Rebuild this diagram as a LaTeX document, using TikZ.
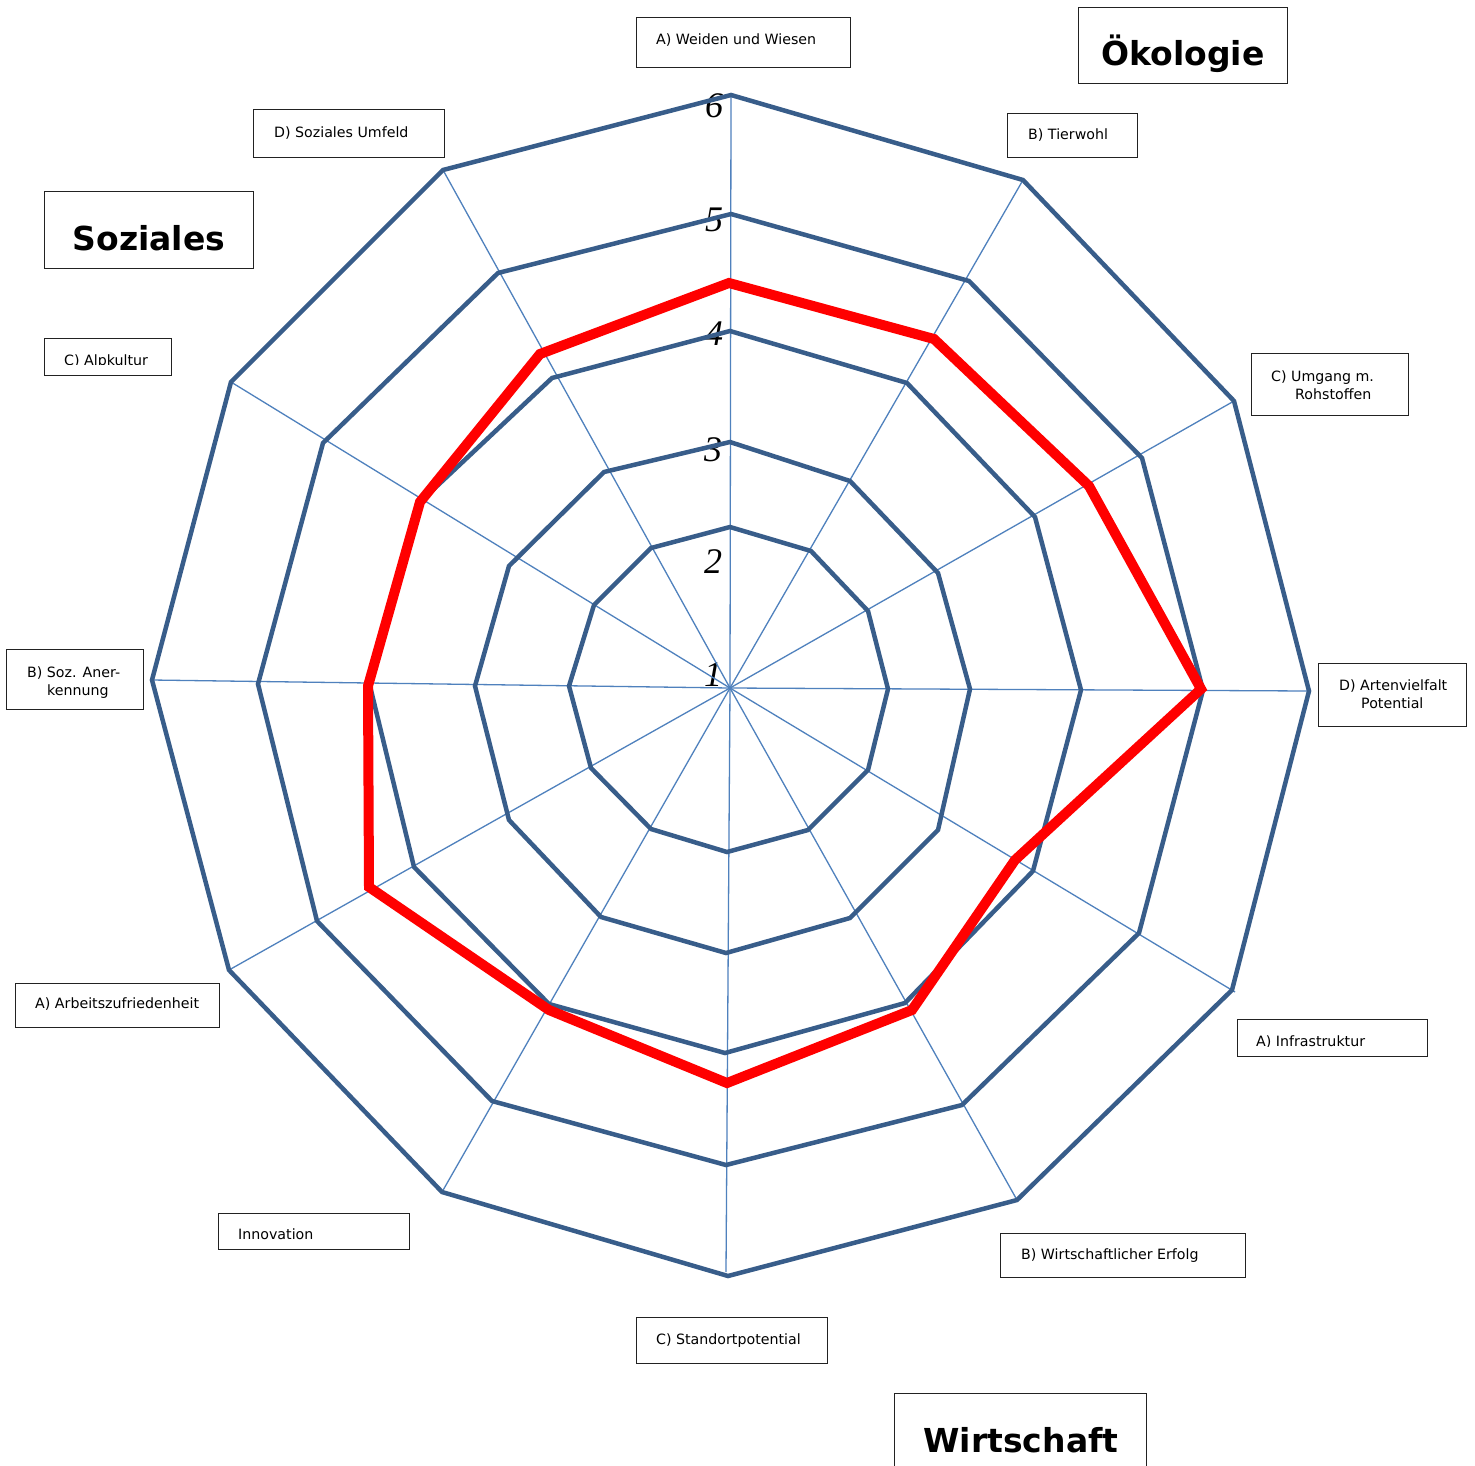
\documentclass[tikz,border=0pt]{standalone}
\usepackage{fontspec}
\newfontfamily\labfont{DejaVu Sans}
\newfontfamily\numfont{Liberation Serif}
\definecolor{ringc}{HTML}{385D8A}
\definecolor{axisc}{HTML}{4F81BD}
\definecolor{boxc}{HTML}{222222}
\tikzset{
  ring/.style={draw=ringc, line width=4.5pt, line join=miter},
  axisline/.style={draw=axisc, line width=1.3pt},
  redline/.style={draw=red, line width=10pt, line join=miter},
  lbox/.style={draw=boxc, line width=1.3pt, anchor=north west, inner sep=0pt},
  lab/.style={font=\labfont\fontsize{14.2}{17}\selectfont, anchor=base west, inner sep=0pt},
  ttl/.style={font=\labfont\bfseries\fontsize{33}{38}\selectfont, anchor=base, inner sep=0pt},
  num/.style={font=\numfont\itshape\fontsize{36}{40}\selectfont, inner sep=0pt},
}
\begin{document}
\begin{tikzpicture}[x=1pt,y=-1pt]
\clip (0,0) rectangle (1475,1465);
\fill[white] (0,0) rectangle (1475,1465);

% scale numbers
\node[num] (n6) at (714,106) {6};
\node[num] (n5) at (714,220) {5};
\node[num] (n4) at (714,334) {4};
\node[num] (n3) at (713,450) {3};
\node[num] (n2) at (713,562) {2};
\node[num] (n1) at (713,675) {1};

% centre and outer vertices
\coordinate (c) at (730,688);
\coordinate (o1) at (731,95);
\coordinate (o2) at (1023,180);
\coordinate (o3) at (1234,401);
\coordinate (o4) at (1309,691);
\coordinate (o5) at (1235,992);
\coordinate (o6) at (1017,1200);
\coordinate (o7) at (726,1272);
\coordinate (o8) at (442,1192);
\coordinate (o9) at (229,970);
\coordinate (o10) at (152,680);
\coordinate (o11) at (231,382);
\coordinate (o12) at (443,170);

% axes
\foreach \i in {1,...,12} \draw[axisline] (c) -- (o\i);

% rings
\draw[ring] (727,852) -- (651,829) -- (591,768) -- (569,686) -- (594,605) -- (651,548) -- (730,527) -- (811,551) -- (868,611) -- (888,689) -- (868,770) -- (808,830) -- cycle;
\draw[ring] (726,953) -- (601,917) -- (509,820) -- (475,686) -- (509,566) -- (604,472) -- (730,442) -- (850,481) -- (938,573) -- (970,689) -- (938,830) -- (850,918) -- cycle;
\draw[ring] (725,1053) -- (549,1004) -- (414,867) -- (370,686) -- (420,502) -- (552,378) -- (730,331) -- (907,383) -- (1035,517) -- (1081,690) -- (1033,871) -- (905,1003) -- cycle;
\draw[ring] (726,1165) -- (492,1101) -- (317,921) -- (258,684) -- (323,443) -- (498,273) -- (731,214) -- (969,281) -- (1142,458) -- (1203,690) -- (1139,933) -- (962,1105) -- cycle;
\draw[ring] (728,1276) -- (442,1192) -- (229,970) -- (152,680) -- (231,382) -- (443,170) -- (731,95) -- (1023,180) -- (1234,401) -- (1309,691) -- (1232,990) -- (1017,1200) -- cycle;

% data polygon
\draw[redline] (727,1083) -- (549,1010) -- (369,887) -- (368,686) -- (420,502) -- (540,354) -- (729,283) -- (934,339) -- (1089,486) -- (1201,689) -- (1015,860) -- (912,1010) -- cycle;

% label boxes
\node[lbox, minimum width=214pt, minimum height=50pt] (bWeiden) at (636,17) {};
\node[lab] (tWeiden) at (656,44) {A) Weiden und Wiesen};

\node[lbox, minimum width=209pt, minimum height=76pt] (bOek) at (1078,7) {};
\node[ttl] (tOek) at (1183,65) {Ökologie};

\node[lbox, minimum width=130pt, minimum height=44pt] (bTier) at (1007,113) {};
\node[lab] (tTier) at (1028,139) {B) Tierwohl};

\node[lbox, minimum width=191pt, minimum height=48pt] (bUmf) at (253,109) {};
\node[lab] (tUmf) at (274,137) {D) Soziales Umfeld};

\node[lbox, minimum width=209pt, minimum height=77pt] (bSoz) at (44,191) {};
\node[ttl] (tSoz) at (149,250) {Soziales};

\node[lbox, minimum width=127pt, minimum height=37pt] (bAlp) at (44,338) {};
\begin{scope}
  \clip (44,340) rectangle (171,364.5);
  \node[lab] (tAlp) at (64,365) {C) Alpkultur};
\end{scope}

\node[lbox, minimum width=157pt, minimum height=62pt] (bRoh) at (1251,353) {};
\node[lab] (tRoh1) at (1271,381) {C) Umgang m.};
\node[lab] (tRoh2) at (1295,399) {Rohstoffen};

\node[lbox, minimum width=137pt, minimum height=60pt] (bAner) at (6,649) {};
\node[lab] (tAner1) at (27,677) {B) Soz. Aner-};
\node[lab] (tAner2) at (47,695) {kennung};

\node[lbox, minimum width=148pt, minimum height=63pt] (bArt) at (1318,663) {};
\node[lab] (tArt1) at (1339,690) {D) Artenvielfalt};
\node[lab] (tArt2) at (1361,708) {Potential};

\node[lbox, minimum width=204pt, minimum height=44pt] (bArb) at (15,983) {};
\node[lab] (tArb) at (35,1008) {A) Arbeitszufriedenheit};

\node[lbox, minimum width=190pt, minimum height=37pt] (bInf) at (1237,1019) {};
\begin{scope}
  \clip (1237,1021) rectangle (1427,1046);
  \node[lab] (tInf) at (1256,1046) {A) Infrastruktur};
\end{scope}

\node[lbox, minimum width=191pt, minimum height=36pt] (bInn) at (218,1213) {};
\node[lab] (tInn) at (238,1239) {Innovation};

\node[lbox, minimum width=245pt, minimum height=44pt] (bErf) at (1000,1233) {};
\node[lab] (tErf) at (1021,1259) {B) Wirtschaftlicher Erfolg};

\node[lbox, minimum width=191pt, minimum height=46pt] (bStd) at (636,1317) {};
\node[lab] (tStd) at (656,1344) {C) Standortpotential};

\node[lbox, minimum width=252pt, minimum height=100pt] (bWirt) at (894,1393) {};
\node[ttl] (tWirt) at (1021,1452) {Wirtschaft};
\end{tikzpicture}
\end{document}
